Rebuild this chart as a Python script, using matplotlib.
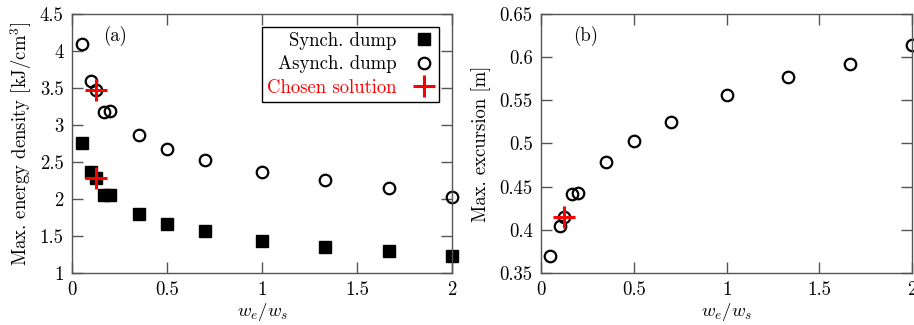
import numpy as np
import matplotlib
matplotlib.use("Agg")
import matplotlib.pyplot as plt

plt.rcParams["font.family"] = "serif"
plt.rcParams["font.serif"] = ["cmr10"]
plt.rcParams["mathtext.fontset"] = "cm"
plt.rcParams["axes.formatter.use_mathtext"] = True
plt.rcParams["font.size"] = 13.5

# ratio w_e / w_s
ratio = [0.05, 0.1, 0.125, 1/6, 0.2, 0.35, 0.5, 0.7, 1.0, 4/3, 5/3, 2.0]
synch_energy = [2.76, 2.36, 2.28, 2.06, 2.05, 1.80, 1.66, 1.57, 1.43, 1.35, 1.30, 1.23]
asynch_energy = [4.09, 3.59, 3.47, 3.17, 3.19, 2.86, 2.67, 2.53, 2.36, 2.26, 2.15, 2.03]
excursion = [0.370, 0.405, 0.415, 0.442, 0.443, 0.479, 0.503, 0.525, 0.556, 0.577, 0.592, 0.614]

chosen_ratio = 0.125
chosen_synch = 2.28
chosen_asynch = 3.47
chosen_exc = 0.415

fig = plt.figure(figsize=(9.14, 3.25), dpi=100)
ax1 = fig.add_axes([0.0788, 0.16, 0.4157, 0.797])
ax2 = fig.add_axes([0.592, 0.16, 0.406, 0.797])

ax1.plot(ratio, synch_energy, "s", color="black", ms=8.3, ls="none",
         clip_on=False, label="Synch. dump")
ax1.plot(ratio, asynch_energy, "o", mfc="none", mec="black", mew=1.6, ms=8.3,
         ls="none", clip_on=False, label="Asynch. dump")
ax1.plot([chosen_ratio, chosen_ratio], [chosen_asynch, chosen_synch], "+",
         color="red", ms=16, mew=2.2, ls="none", clip_on=False,
         label="Chosen solution")

ax1.set_xlim(0, 2)
ax1.set_ylim(1, 4.5)
ax1.set_xticks([0, 0.5, 1, 1.5, 2])
ax1.set_xticklabels(["0", "0.5", "1", "1.5", "2"])
ax1.set_yticks(np.arange(1, 4.51, 0.5))
ax1.set_yticklabels(["1", "1.5", "2", "2.5", "3", "3.5", "4", "4.5"])
ax1.set_xlabel(r"$w_e/w_s$", labelpad=1)
ax1.set_ylabel(r"Max. energy density [kJ/cm$^3$]", labelpad=4)
ax1.text(0.113, 0.915, "(a)", transform=ax1.transAxes, ha="center", va="center")

leg = ax1.legend(loc="upper right", markerfirst=False, fancybox=False,
                 edgecolor="black", framealpha=1, borderaxespad=0.7,
                 handletextpad=0.9, labelspacing=0.3, borderpad=0.25,
                 handlelength=1.1)
leg.get_frame().set_linewidth(1.0)
leg.get_texts()[2].set_color("red")

ax2.plot(ratio, excursion, "o", mfc="none", mec="black", mew=1.6, ms=8.3,
         ls="none", clip_on=False)
ax2.plot([chosen_ratio], [chosen_exc], "+", color="red", ms=16, mew=2.2,
         ls="none", clip_on=False)
ax2.set_xlim(0, 2)
ax2.set_ylim(0.35, 0.65)
ax2.set_xticks([0, 0.5, 1, 1.5, 2])
ax2.set_xticklabels(["0", "0.5", "1", "1.5", "2"])
ax2.set_yticks(np.arange(0.35, 0.651, 0.05))
ax2.set_yticklabels(["0.35", "0.4", "0.45", "0.5", "0.55", "0.6", "0.65"])
ax2.set_xlabel(r"$w_e/w_s$", labelpad=1)
ax2.set_ylabel("Max. excursion [m]", labelpad=6)
ax2.text(0.119, 0.915, "(b)", transform=ax2.transAxes, ha="center", va="center")

for ax in (ax1, ax2):
    ax.tick_params(direction="in", top=True, right=True, length=8, width=1,
                   color="#555555", pad=6)
    for s in ax.spines.values():
        s.set_color("#555555")
        s.set_linewidth(1.0)

fig.savefig("out.png", dpi=100)
